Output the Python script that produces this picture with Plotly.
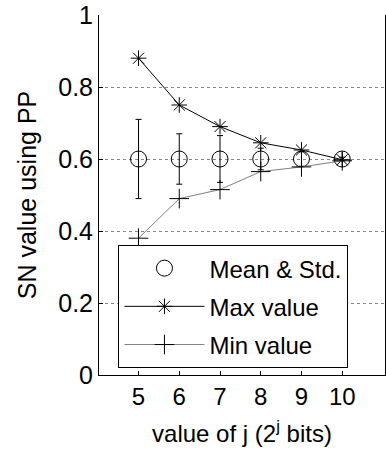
import plotly.graph_objects as go

j_values = [5, 6, 7, 8, 9, 10]
mean_values = [0.6, 0.6, 0.6, 0.6, 0.6, 0.6]
std_values = [0.11, 0.07, 0.065, 0.03, 0.02, 0.005]
max_values = [0.88, 0.75, 0.69, 0.645, 0.625, 0.598]
min_values = [0.38, 0.49, 0.515, 0.565, 0.578, 0.595]
y_ticks = [0, 0.2, 0.4, 0.6, 0.8, 1]
y_ticklabels = ["0", "0.2", "0.4", "0.6", "0.8", "1"]

FONT = "Arial, Liberation Sans, sans-serif"

fig = go.Figure()
fig.add_trace(go.Scatter(
    x=j_values, y=mean_values, mode="markers", name="Mean & Std.",
    legendgroup="a",
    marker=dict(symbol="circle-open", size=16, color="black", line=dict(width=1, color="black")),
    error_y=dict(type="data", array=std_values, color="black", thickness=1, width=3),
))
fig.add_trace(go.Scatter(
    x=j_values, y=max_values, mode="lines+markers", name="Max value",
    legendgroup="b",
    line=dict(color="black", width=1),
    marker=dict(symbol="asterisk-open", size=13, color="black", line=dict(width=1, color="black")),
))
fig.add_trace(go.Scatter(
    x=j_values, y=min_values, mode="lines+markers", name="Min value",
    legendgroup="c",
    line=dict(color="#808080", width=1),
    marker=dict(symbol="cross-thin-open", size=14, color="black", line=dict(width=1, color="black")),
))

fig.update_layout(
    width=386, height=455,
    margin=dict(l=99, r=1, t=15, b=80),
    paper_bgcolor="white", plot_bgcolor="white",
    font=dict(family=FONT, color="black"),
    showlegend=True,
    legend=dict(
        x=0.068, y=0.361, xanchor="left", yanchor="top",
        bgcolor="white", bordercolor="black", borderwidth=1,
        font=dict(family=FONT, size=24, color="black"),
        traceorder="grouped", tracegroupgap=4,
        itemwidth=80,
    ),
    xaxis=dict(
        range=[4.03, 11.05], tickvals=j_values, ticktext=[str(v) for v in j_values],
        ticks="inside", ticklen=4, tickcolor="black",
        showline=True, linecolor="black", linewidth=1, mirror=False,
        showgrid=False, zeroline=False,
        tickfont=dict(family=FONT, size=24, color="black"),
        title=dict(text="value of j (2<sup>j</sup> bits)", font=dict(family=FONT, size=24, color="black"), standoff=16),
    ),
    yaxis=dict(
        range=[0, 1], tickvals=y_ticks, ticktext=y_ticklabels,
        ticks="inside", ticklen=4, tickcolor="black",
        showline=True, linecolor="black", linewidth=1, mirror=True,
        showgrid=True, gridcolor="#888888", griddash="dot", gridwidth=1,
        zeroline=False,
        tickfont=dict(family=FONT, size=25, color="black"),
        title=dict(text="SN value using PP", font=dict(family=FONT, size=25, color="black"), standoff=14),
    ),
)

fig.write_html("out.html")
